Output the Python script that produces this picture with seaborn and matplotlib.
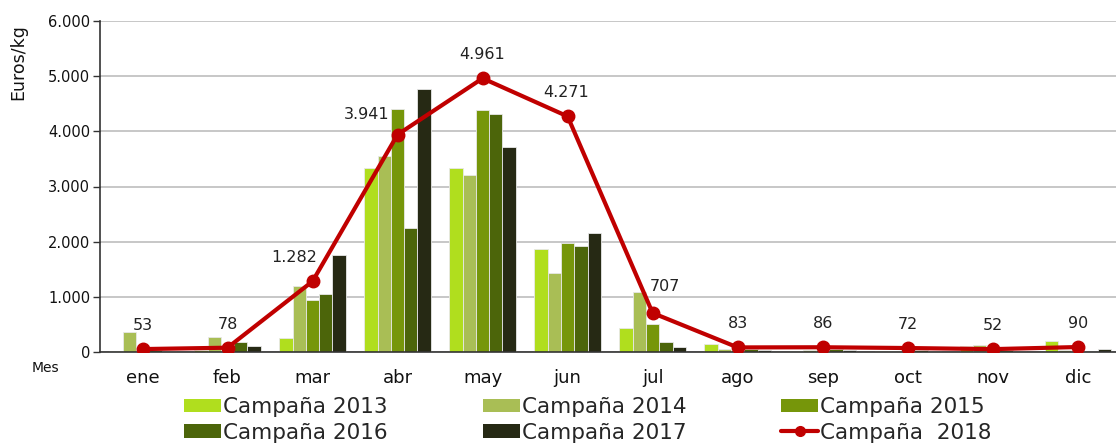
import numpy as np
import pandas as pd
import matplotlib
matplotlib.use("Agg")
import matplotlib.pyplot as plt
import seaborn as sns
from matplotlib.ticker import FuncFormatter, FixedLocator
from matplotlib.patches import Patch
from matplotlib.lines import Line2D

months = ["ene", "feb", "mar", "abr", "may", "jun", "jul", "ago", "sep", "oct", "nov", "dic"]
c2013 = [20, 30, 250, 3330, 3330, 1870, 430, 150, 20, 20, 100, 200]
c2014 = [360, 270, 1200, 3550, 3200, 1430, 1090, 50, 30, 20, 120, 40]
c2015 = [30, 100, 940, 4400, 4380, 1970, 500, 40, 40, 30, 40, 20]
c2016 = [30, 180, 1050, 2250, 4310, 1920, 180, 50, 50, 30, 30, 20]
c2017 = [20, 110, 1760, 4760, 3710, 2150, 90, 30, 30, 20, 20, 60]
c2018 = [53, 78, 1282, 3941, 4961, 4271, 707, 83, 86, 72, 52, 90]
bar_series = ["Campaña 2013", "Campaña 2014", "Campaña 2015", "Campaña 2016", "Campaña 2017"]
line_series = "Campaña  2018"
y_ticks = [0, 1000, 2000, 3000, 4000, 5000, 6000]

bar_colors = ["#B0DE1E", "#A9BE55", "#76960A", "#4C650A", "#262914"]
line_color = "#C00000"

sns.set_theme(style="white")
plt.rcParams["font.family"] = ["DejaVu Sans"]

df = pd.DataFrame({
    "Mes": months * 5,
    "valor": c2013 + c2014 + c2015 + c2016 + c2017,
    "serie": sum([[s] * 12 for s in bar_series], []),
})

fig = plt.figure(figsize=(11.16, 4.43), dpi=100)
ax = fig.add_axes([100 / 1116, 1 - 352 / 443, 1 - 100 / 1116, (352 - 21) / 443])

sns.barplot(data=df, x="Mes", y="valor", hue="serie", order=months, hue_order=bar_series,
            palette=bar_colors, width=0.78, ax=ax, legend=False, errorbar=None,
            edgecolor="#E8E8E8", linewidth=0.6, saturation=1)

x = np.arange(len(months))
ax.plot(x, c2018, color=line_color, lw=3, marker="o", ms=9, zorder=5)

offsets = {2: (-13, 17), 3: (-22, 14.5), 5: (-1, 17), 6: (9, 19)}
for i, v in enumerate(c2018):
    dx, dy = offsets.get(i, (0, 17))
    lab = f"{v:,}".replace(",", ".")
    ax.annotate(lab, (i, v), xytext=(dx, dy), textcoords="offset points",
                ha="center", va="center", fontsize=11.5, color="#222222", zorder=6)

ax.set_ylim(0, 6000)
ax.set_xlim(-0.5, 11.45)
ax.set_yticks(y_ticks)
ax.yaxis.set_major_formatter(FuncFormatter(lambda v, p: f"{int(v):,}".replace(",", ".")))
ax.grid(axis="y", color="#BEBEBE", lw=1.2)
ax.set_axisbelow(True)
for s in ["top", "right"]:
    ax.spines[s].set_visible(False)
ax.spines["left"].set_color("#333333")
ax.spines["bottom"].set_color("#333333")
ax.spines["left"].set_linewidth(1.2)
ax.spines["bottom"].set_linewidth(1.2)

ax.set_xticks(x)
ax.set_xticklabels(months, fontsize=13, color="#111111")
ax.xaxis.set_minor_locator(FixedLocator(np.arange(-0.5, 12, 1)))
ax.tick_params(axis="x", which="major", length=0, pad=12)
ax.tick_params(axis="x", which="minor", length=6, width=1, color="#333333", direction="out")
ax.tick_params(axis="y", length=5, width=1, color="#333333", direction="out", left=True,
               labelsize=10.5, labelcolor="#111111", pad=2)
ax.set_xlabel("")
ax.set_ylabel("")
fig.text(18 / 1116, 1 - 62 / 443, "Euros/kg", fontsize=12.5, rotation=90,
         ha="center", va="center", color="#111111")
fig.text(45 / 1116, 1 - 368 / 443, "Mes", fontsize=10, ha="center", va="center", color="#111111")

handles = [Patch(facecolor=c, edgecolor="none") for c in bar_colors]
handles.append(Line2D([0], [0], color=line_color, lw=3, marker="o", ms=7))
labels = bar_series + [line_series]
order = [0, 3, 1, 4, 2, 5]
fig.legend([handles[i] for i in order], [labels[i] for i in order], ncol=3,
           loc="upper left", bbox_to_anchor=(184 / 1116, 1 - 397 / 443), frameon=False,
           fontsize=15.5, handlelength=1.72, handleheight=0.6, handletextpad=0.1,
           columnspacing=4.4, labelspacing=0.26, borderpad=0, borderaxespad=0)

fig.savefig("out.png", dpi=100)
